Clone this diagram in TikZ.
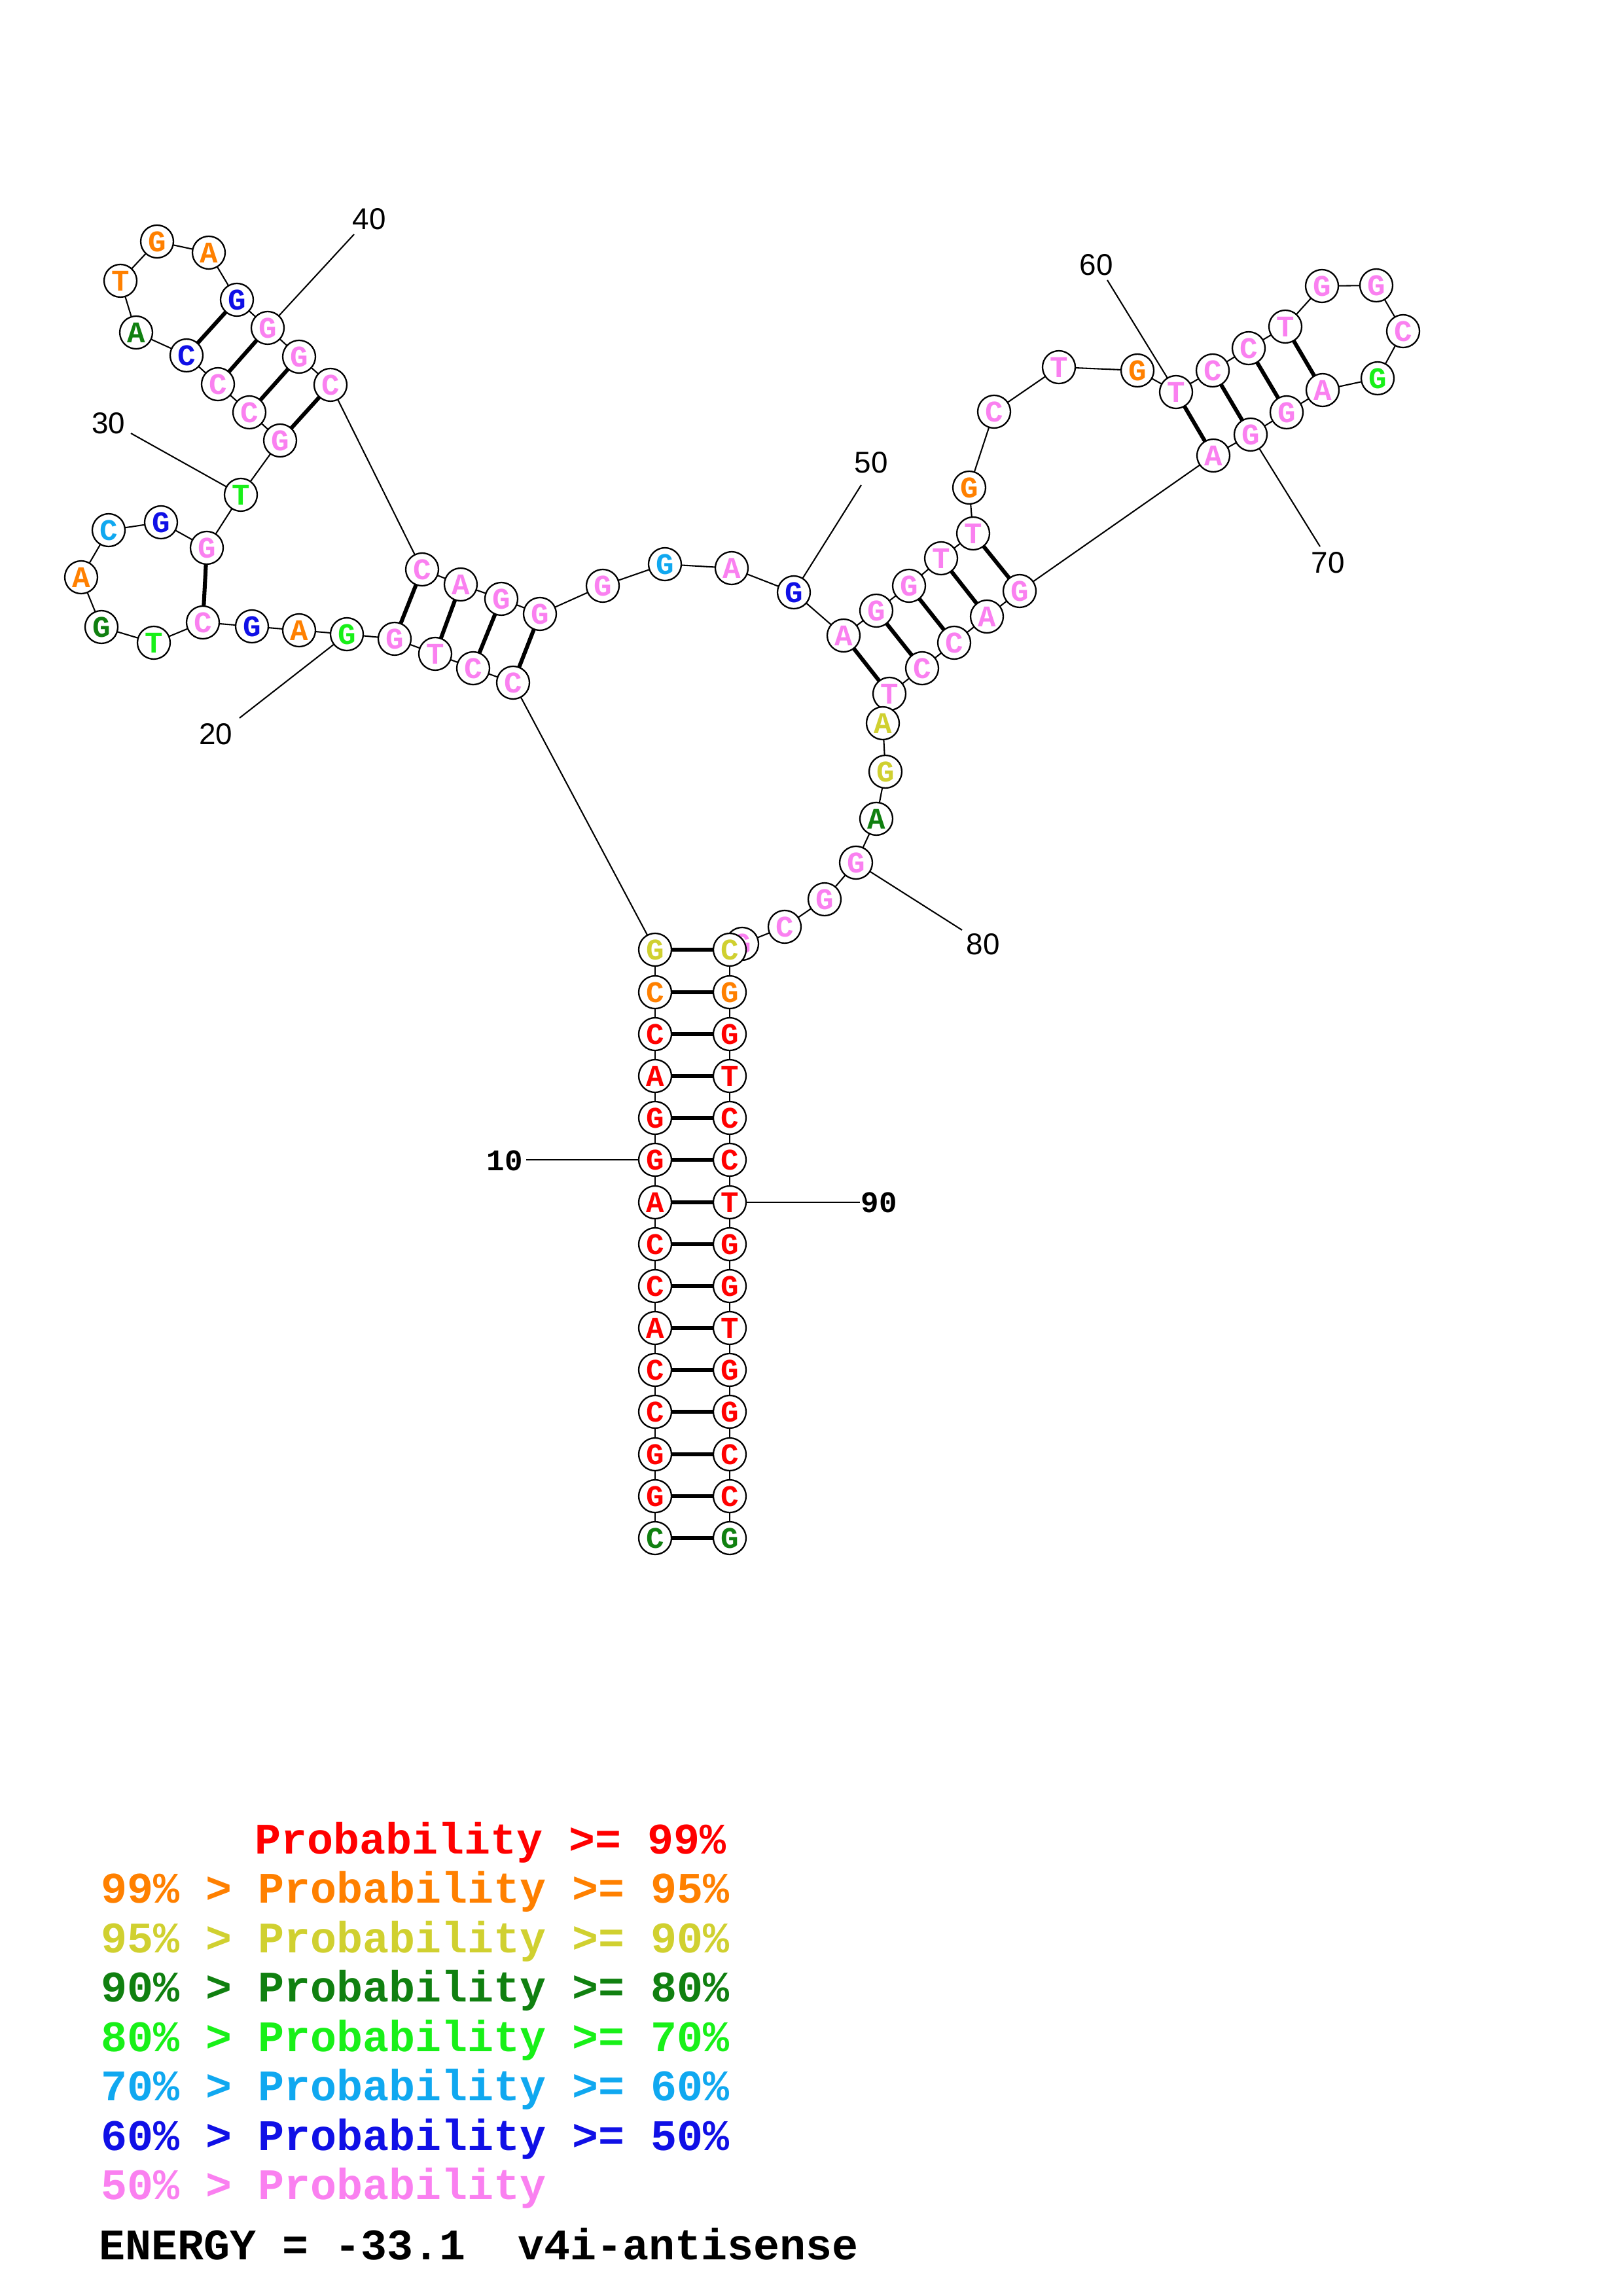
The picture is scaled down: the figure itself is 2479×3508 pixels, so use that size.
\documentclass[tikz,border=0pt]{standalone}
\usepackage{fontspec}
\setmainfont{Liberation Sans}
\setmonofont{Liberation Mono}
\definecolor{cR}{RGB}{255,0,0}
\definecolor{cO}{RGB}{255,128,0}
\definecolor{cY}{RGB}{208,208,48}
\definecolor{cD}{RGB}{16,128,16}
\definecolor{cG}{RGB}{24,240,24}
\definecolor{cC}{RGB}{16,168,240}
\definecolor{cB}{RGB}{16,16,230}
\definecolor{cP}{RGB}{250,128,240}
\pgfdeclarelayer{bg}
\pgfsetlayers{bg,main}
\tikzset{
  nt/.style={circle, draw=black, line width=0.55pt, fill=white, minimum size=12pt, inner sep=0pt,
    font=\ttfamily\bfseries\fontsize{11}{11}\selectfont},
  bb/.style={line width=0.5pt},
  bp/.style={line width=1.45pt},
  lbl/.style={font=\rmfamily\fontsize{11}{11}\selectfont, inner sep=0pt},
  lblm/.style={font=\ttfamily\bfseries\fontsize{11}{11}\selectfont, inner sep=0pt},
  leg/.style={anchor=base west, inner sep=0pt, font=\ttfamily\bfseries\fontsize{16}{16}\selectfont}
}
\begin{document}
\begin{tikzpicture}[x=0.24pt,y=-0.24pt]
\useasboundingbox (0,0) rectangle (2479,3508);
\foreach \i/\x/\y/\l/\c in {
1/1001/2350/C/cD, 2/1001/2286/G/cR, 3/1001/2222/G/cR, 4/1001/2157/C/cR, 5/1001/2093/C/cR,
6/1001/2029/A/cR, 7/1001/1965/C/cR, 8/1001/1901/C/cR, 9/1001/1837/A/cR, 10/1001/1772/G/cR,
11/1001/1708/G/cR, 12/1001/1644/A/cR, 13/1001/1580/C/cR, 14/1001/1516/C/cO, 15/1001/1451/G/cY,
16/784/1043/C/cP, 17/723/1021/C/cP, 18/665/999/T/cP, 19/603/976/G/cP, 20/530/969/G/cG,
21/457/963/A/cO, 22/385/957/G/cB, 23/310/951/C/cP, 24/235/982/T/cG, 25/155/958/G/cD,
26/124/882/A/cO, 27/166/810/C/cC, 28/246/798/G/cB, 29/316/837/G/cP, 30/368/756/T/cG,
31/428/673/G/cP, 32/381/630/C/cP, 33/333/587/C/cP, 34/285/543/C/cB, 35/208/508/A/cD,
36/184/429/T/cO, 37/240/369/G/cO, 38/319/386/A/cO, 39/362/458/G/cB, 40/409/501/G/cP,
41/457/545/G/cP, 42/505/588/C/cP, 43/645/870/C/cP, 44/704/893/A/cP, 45/766/915/G/cP,
46/825/938/G/cP, 47/921/895/G/cP, 48/1016/862/G/cC, 49/1118/868/A/cP, 50/1213/905/G/cB,
51/1289/971/A/cP, 52/1339/933/G/cP, 53/1389/895/G/cP, 54/1438/853/T/cP, 55/1487/815/T/cP,
56/1481/745/G/cO, 57/1519/629/C/cP, 58/1618/561/T/cP, 59/1738/566/G/cO, 60/1797/599/T/cP,
61/1853/566/C/cP, 62/1908/532/C/cP, 63/1964/499/T/cP, 64/2020/437/G/cP, 65/2103/436/G/cP,
66/2144/506/C/cP, 67/2105/578/G/cG, 68/2021/596/A/cP, 69/1966/630/G/cP, 70/1911/664/G/cP,
71/1854/696/A/cP, 72/1558/903/G/cP, 73/1508/942/A/cP, 74/1458/982/C/cP, 75/1409/1021/C/cP,
76/1359/1060/T/cP, 77/1349/1105/A/cY, 78/1353/1179/G/cY, 79/1339/1251/A/cD, 80/1308/1318/G/cP,
81/1260/1374/G/cP, 82/1199/1416/C/cP, 83/1134/1442/G/cP, 84/1115/1451/C/cY, 85/1115/1516/G/cO,
86/1115/1580/G/cR, 87/1115/1644/T/cR, 88/1115/1708/C/cR, 89/1115/1772/C/cR, 90/1115/1837/T/cR,
91/1115/1901/G/cR, 92/1115/1965/G/cR, 93/1115/2029/T/cR, 94/1115/2093/G/cR, 95/1115/2157/G/cR,
96/1115/2222/C/cR, 97/1115/2286/C/cR, 98/1115/2350/G/cD}
{ \node[nt, text=\c] (n\i) at (\x,\y) {\l}; }
% number labels
\node[lblm] (L10) at (771,1773) {10};
\node[lbl] (L20) at (330,1122) {20};
\node[lbl] (L30) at (166,647) {30};
\node[lbl] (L40) at (564,335) {40};
\node[lbl] (L50) at (1331,707) {50};
\node[lbl] (L60) at (1675,405) {60};
\node[lbl] (L70) at (2029,860) {70};
\node[lbl] (L80) at (1502,1443) {80};
\node[lblm] (L90) at (1343,1837) {90};
\coordinate (t10) at (804,1772);
\coordinate (t20) at (366,1097);
\coordinate (t30) at (200,662);
\coordinate (t40) at (541,358);
\coordinate (t50) at (1316,741);
\coordinate (t60) at (1692,428);
\coordinate (t70) at (2017,835);
\coordinate (t80) at (1470,1421);
\coordinate (t90) at (1314,1837);
\begin{pgfonlayer}{bg}
\foreach \i in {1,...,97} {
  \pgfmathtruncatemacro{\j}{\i+1}
  \draw[bb] (n\i.center) -- (n\j.center);
}
\foreach \a/\b in {1/98,2/97,3/96,4/95,5/94,6/93,7/92,8/91,9/90,10/89,11/88,12/87,13/86,14/85,15/84,
  16/46,17/45,18/44,19/43,23/29,31/42,32/41,33/40,34/39,
  51/76,52/75,53/74,54/73,55/72,60/71,61/70,62/69,63/68}
{ \draw[bp] (n\a.center) -- (n\b.center); }
\foreach \k in {10,20,30,40,50,60,70,80,90}
{ \draw[bb] (t\k) -- (n\k.center); }
\end{pgfonlayer}
% legend
\node[leg, text=cR] (g1) at (389,2832) {Probability >= 99\%};
\node[leg, text=cO] (g2) at (154,2907) {99\% > Probability >= 95\%};
\node[leg, text=cY] (g3) at (154,2983) {95\% > Probability >= 90\%};
\node[leg, text=cD] (g4) at (154,3058) {90\% > Probability >= 80\%};
\node[leg, text=cG] (g5) at (154,3134) {80\% > Probability >= 70\%};
\node[leg, text=cC] (g6) at (154,3209) {70\% > Probability >= 60\%};
\node[leg, text=cB] (g7) at (154,3285) {60\% > Probability >= 50\%};
\node[leg, text=cP] (g8) at (154,3360) {50\% > Probability};
\node[leg, text=black] (en) at (151,3452) {ENERGY = -33.1\ \ v4i-antisense};
\end{tikzpicture}
\end{document}
